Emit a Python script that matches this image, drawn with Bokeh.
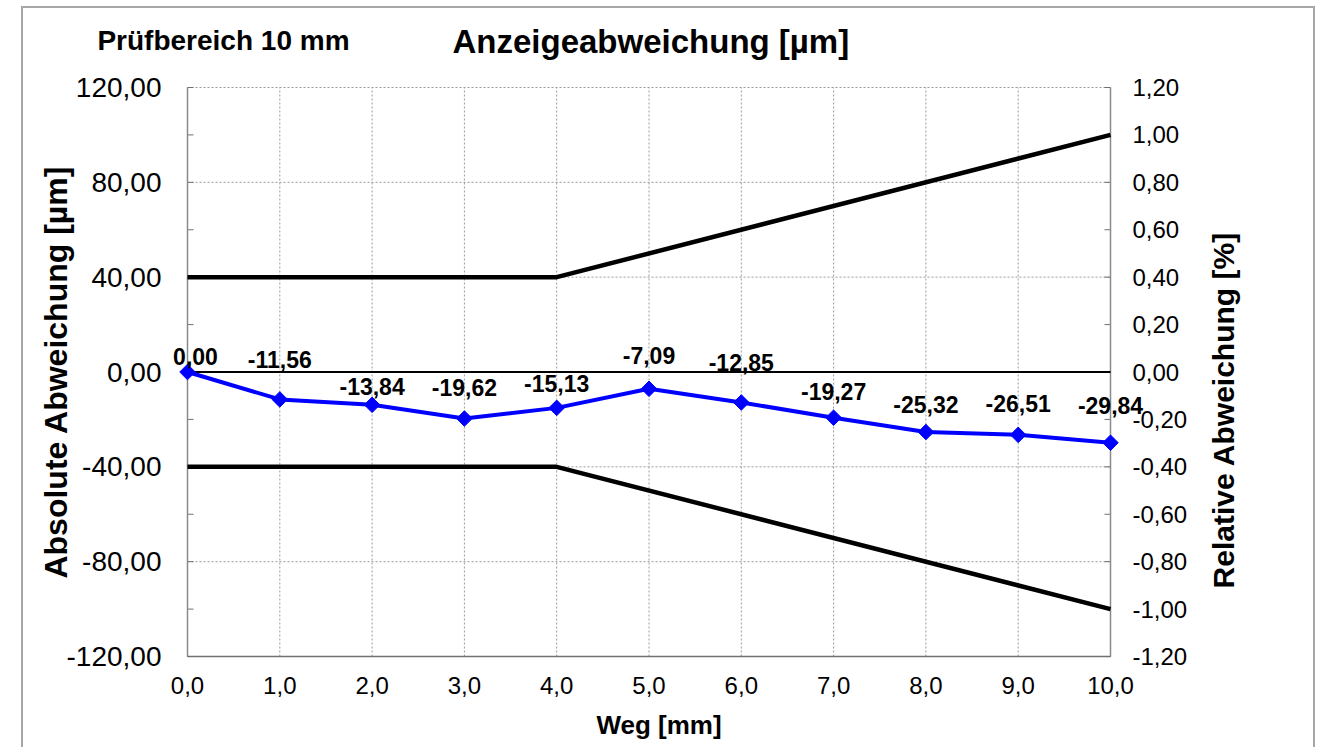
import math
from bokeh.plotting import figure
from bokeh.models import (Range1d, LinearAxis, FixedTicker, ColumnDataSource, LabelSet)
from bokeh.core.properties import value
from bokeh.embed import file_html
from bokeh.resources import INLINE

# ---------------- data ----------------
weg_mm = [0.0, 1.0, 2.0, 3.0, 4.0, 5.0, 6.0, 7.0, 8.0, 9.0, 10.0]
abweichung_um = [0.00, -11.56, -13.84, -19.62, -15.13, -7.09, -12.85, -19.27, -25.32, -26.51, -29.84]

grenze_x = [0.0, 4.0, 10.0]
grenze_oben = [40.0, 40.0, 100.0]
grenze_unten = [-40.0, -40.0, -100.0]

x_ticks = [0, 1, 2, 3, 4, 5, 6, 7, 8, 9, 10]
x_tick_labels = ["0,0", "1,0", "2,0", "3,0", "4,0", "5,0", "6,0", "7,0", "8,0", "9,0", "10,0"]
y_left_ticks = [-120, -80, -40, 0, 40, 80, 120]
y_left_labels = ["-120,00", "-80,00", "-40,00", "0,00", "40,00", "80,00", "120,00"]
y_left_minor = [-100, -60, -20, 20, 60, 100]
y_right_ticks = [-1.2, -1.0, -0.8, -0.6, -0.4, -0.2, 0.0, 0.2, 0.4, 0.6, 0.8, 1.0, 1.2]
y_right_labels = ["-1,20", "-1,00", "-0,80", "-0,60", "-0,40", "-0,20", "0,00",
                  "0,20", "0,40", "0,60", "0,80", "1,00", "1,20"]

subtitle_text = "Prüfbereich 10 mm"
title_text = "Anzeigeabweichung [µm]"
x_label = "Weg [mm]"
y_left_label = "Absolute Abweichung [µm]"
y_right_label = "Relative Abweichung [%]"

# ---------------- layout ----------------
X0, X1 = x_ticks[0], x_ticks[-1]
Y0, Y1 = y_left_ticks[0], y_left_ticks[-1]
R0, R1 = y_right_ticks[0], y_right_ticks[-1]
AREA_W, AREA_H = 923, 569          # plot area in pixels
PAD_L, PAD_R, PAD_V = 30, 50, 4    # extra frame so edge labels are not clipped
TICK = 6                           # inward tick length, px
xpp = (X1 - X0) / AREA_W
ypp = (Y1 - Y0) / AREA_H
rpp = (R1 - R0) / AREA_H

subtitle_pos = 0.39
title_pos = 5.02
right_label_pos = -91.3            # where the rotated right-hand title starts
label_dx = [8, 0, 0, 0, 0, 0, 0, 0, 0, 0, 0]
label_dy = [16, 40, 18, 31, 24, 33, 40, 26, 28, 31, 37]

FONT = "Liberation Sans"
GRID = "#9a9a9a"
AXIS = "#8a8a8a"

p = figure(frame_width=AREA_W + PAD_L + PAD_R, frame_height=AREA_H + 2 * PAD_V,
           min_border_left=164 - PAD_L, min_border_right=203 - PAD_R,
           min_border_top=79 - PAD_V, min_border_bottom=91 - PAD_V,
           x_range=Range1d(X0 - PAD_L * xpp, X1 + PAD_R * xpp),
           y_range=Range1d(Y0 - PAD_V * ypp, Y1 + PAD_V * ypp),
           output_backend="svg", toolbar_location=None, tools="")
p.styles = {"margin-left": "21px", "margin-top": "6px",
            "border-left": "2px solid #a6a6a6", "border-top": "2px solid #a6a6a6",
            "border-right": "2px solid #a6a6a6"}
p.outline_line_color = None
p.background_fill_color = "white"
p.border_fill_color = "white"
p.xgrid.visible = False
p.ygrid.visible = False

p.extra_y_ranges = {"rel": Range1d(R0 - PAD_V * rpp, R1 + PAD_V * rpp)}


def hide_axis_lines(ax):
    ax.axis_line_color = None
    ax.major_tick_line_color = None
    ax.minor_tick_line_color = None
    ax.major_tick_out = 0
    ax.major_tick_in = 0
    ax.minor_tick_out = 0
    ax.minor_tick_in = 0


# bottom axis (labels only; rule drawn as a glyph)
xa = p.xaxis[0]
xa.ticker = FixedTicker(ticks=x_ticks)
xa.major_label_overrides = {t: l for t, l in zip(x_ticks, x_tick_labels)}
hide_axis_lines(xa)
xa.major_label_text_font = FONT
xa.major_label_text_font_size = "24px"
xa.major_label_text_color = "black"
xa.major_label_standoff = 20 - PAD_V
xa.axis_label = x_label
xa.axis_label_text_font = FONT
xa.axis_label_text_font_style = "bold"
xa.axis_label_text_font_size = "26px"
xa.axis_label_text_color = "black"
xa.axis_label_standoff = 13

# left axis
ya = p.yaxis[0]
ya.ticker = FixedTicker(ticks=y_left_ticks)
ya.major_label_overrides = {t: l for t, l in zip(y_left_ticks, y_left_labels)}
hide_axis_lines(ya)
ya.major_label_text_font = FONT
ya.major_label_text_font_size = "28px"
ya.major_label_text_color = "black"
ya.major_label_standoff = 26 - PAD_L
ya.axis_label = y_left_label
ya.axis_label_text_font = FONT
ya.axis_label_text_font_style = "bold"
ya.axis_label_text_font_size = "32px"
ya.axis_label_text_color = "black"
ya.axis_label_standoff = -10

# right axis (relative)
ra = LinearAxis(y_range_name="rel", ticker=FixedTicker(ticks=y_right_ticks))
ra.major_label_overrides = {t: l for t, l in zip(y_right_ticks, y_right_labels)}
hide_axis_lines(ra)
ra.major_label_text_font = FONT
ra.major_label_text_font_size = "24px"
ra.major_label_text_color = "black"
ra.major_label_standoff = 22 - PAD_R
p.add_layout(ra, "right")

# right axis title (as single rotated tick label)
rl = LinearAxis(ticker=FixedTicker(ticks=[right_label_pos]))
rl.major_label_overrides = {right_label_pos: y_right_label}
hide_axis_lines(rl)
rl.major_label_orientation = math.pi / 2
rl.major_label_text_font = FONT
rl.major_label_text_font_style = "bold"
rl.major_label_text_font_size = "30px"
rl.major_label_text_color = "black"
rl.major_label_standoff = 33
p.add_layout(rl, "right")

# headings (as tick labels of invisible top axes)
t1 = LinearAxis(ticker=FixedTicker(ticks=[subtitle_pos]))
t1.major_label_overrides = {subtitle_pos: subtitle_text}
hide_axis_lines(t1)
t1.major_label_text_font = FONT
t1.major_label_text_font_style = "bold"
t1.major_label_text_font_size = "28px"
t1.major_label_text_color = "black"
t1.major_label_standoff = 28
p.add_layout(t1, "above")

t2 = LinearAxis(ticker=FixedTicker(ticks=[title_pos]))
t2.major_label_overrides = {title_pos: title_text}
hide_axis_lines(t2)
t2.major_label_text_font = FONT
t2.major_label_text_font_style = "bold"
t2.major_label_text_font_size = "33px"
t2.major_label_text_color = "black"
t2.major_label_standoff = -38
p.add_layout(t2, "above")

# grid lines (dashed) inside the plot area
p.segment(x0=x_ticks, y0=[Y0] * len(x_ticks), x1=x_ticks, y1=[Y1] * len(x_ticks),
          line_color=GRID, line_width=1, line_dash="2 2")
p.segment(x0=[X0] * len(y_left_ticks), y0=y_left_ticks, x1=[X1] * len(y_left_ticks), y1=y_left_ticks,
          line_color=GRID, line_width=1, line_dash="2 2")

# axis rules and inward ticks
left_tick_pos = sorted(y_left_ticks + y_left_minor)
p.segment(x0=[X0] * len(left_tick_pos), y0=left_tick_pos,
          x1=[X0 + TICK * xpp] * len(left_tick_pos), y1=left_tick_pos,
          line_color="#707070", line_width=1)
p.segment(x0=[X1 - TICK * xpp] * len(y_right_ticks), y0=y_right_ticks,
          x1=[X1] * len(y_right_ticks), y1=y_right_ticks,
          line_color="#707070", line_width=1, y_range_name="rel")
p.line([X0, X0], [Y0, Y1], line_color=AXIS, line_width=1.5)
p.line([X1, X1], [Y0, Y1], line_color=AXIS, line_width=1.5)
p.line([X0, X1], [Y0, Y0], line_color="#707070", line_width=1.5)

# zero line
p.line([X0, X1], [0, 0], line_color="black", line_width=2)

# limit lines
p.line(grenze_x, grenze_oben, line_color="black", line_width=4.5)
p.line(grenze_x, grenze_unten, line_color="black", line_width=4.5)

# measured series
src = ColumnDataSource(dict(
    x=weg_mm, y=abweichung_um,
    txt=[f"{v:.2f}".replace(".", ",") for v in abweichung_um],
    dx=label_dx, dy=label_dy))
p.line("x", "y", source=src, line_color="#0000ff", line_width=4)
p.scatter("x", "y", source=src, marker="square", angle=math.pi / 4, size=11,
          fill_color="#0000ff", line_color="#0000ff")
p.add_layout(LabelSet(x="x", y="y", text="txt", source=src, x_offset="dx", y_offset="dy",
                      text_align="center", text_baseline="middle",
                      text_font=value(FONT), text_font_style="bold", text_font_size="23px",
                      text_color="black"))

open("out.html", "w").write(file_html(p, INLINE))
